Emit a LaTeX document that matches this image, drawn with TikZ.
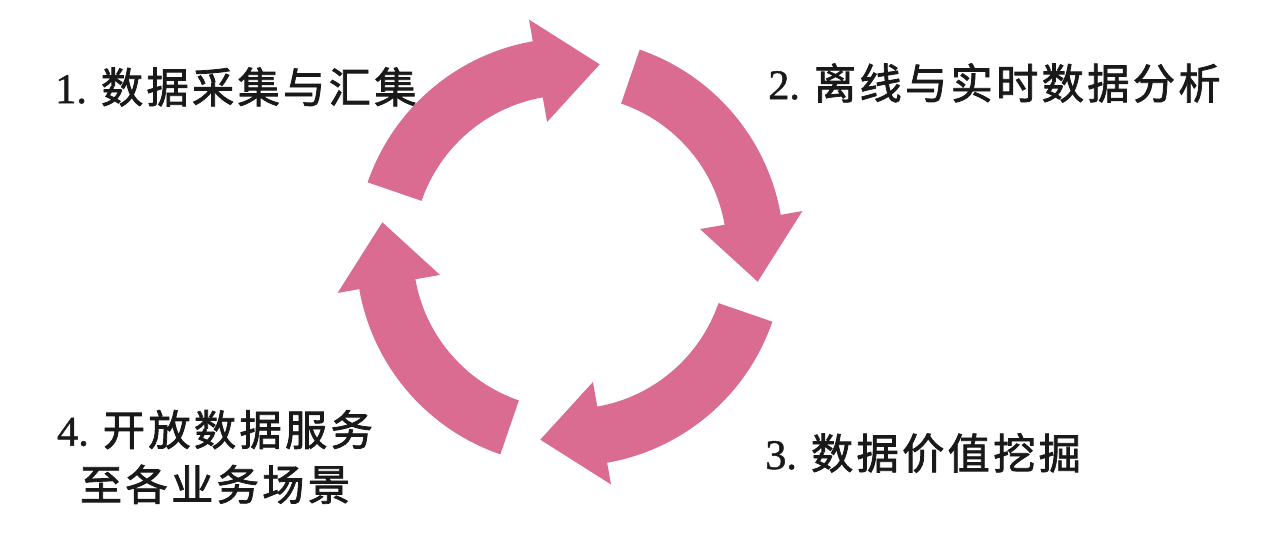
\documentclass[tikz,border=0pt]{standalone}
\usepackage{fontspec}
\setmainfont[FakeBold=1.2]{Liberation Serif}
\newfontfamily\cjk[LetterSpace=8, FakeBold=1.8]{Noto Sans CJK SC}
\definecolor{arrowpink}{RGB}{218,108,145}
\tikzset{
  cyclearrow/.style={fill=arrowpink, draw=none},
  lbl/.style={font=\fontsize{30}{39}\selectfont, inner sep=0pt, text=black!90}
}

\begin{document}
\begin{tikzpicture}[x=0.025cm, y=0.025cm]
  \useasboundingbox (0,0) rectangle (1280,544);
  \coordinate (hub) at (570,292);
  % four arrows round the cycle
  \foreach \k in {0,...,3}{
    \begin{scope}[shift={(hub)}, rotate=-90*\k]
      \fill[cyclearrow] (161:214) arc[start angle=161, end angle=100, radius=214]
        -- (100:236) -- (81:190) -- (100:132) -- (100:157)
        arc[start angle=100, end angle=161, radius=157] -- cycle;
    \end{scope}
  }
  \node[lbl, anchor=west] (collect) at (55,457) {1. {\cjk 数据采集与汇集}};
  \node[lbl, anchor=west] (analyse) at (768,461) {2. {\cjk 离线与实时数据分析}};
  \node[lbl, anchor=west] (mine) at (765,91) {3. {\cjk 数据价值挖掘}};
  \node[lbl, align=center] (serve) at (215,87) {4. {\cjk 开放数据服务}\\{\cjk 至各业务场景}};
\end{tikzpicture}
\end{document}
